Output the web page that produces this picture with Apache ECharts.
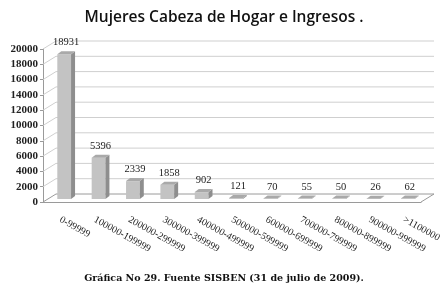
<!DOCTYPE html>
<html>
<head>
<meta charset="utf-8">
<script src="https://cdn.jsdelivr.net/npm/echarts@6/dist/echarts.min.js"></script>
<style>
  html, body { margin: 0; padding: 0; background: #fff; }
  #main { width: 448px; height: 288px; }
</style>
</head>
<body>
<div id="main"></div>
<script>
var categories = ['0-99999', '100000-199999', '200000-299999', '300000-399999', '400000-499999',
  '500000-599999', '600000-699999', '700000-799999', '800000-899999', '900000-999999', '>1100000'];
var values = [18931, 5396, 2339, 1858, 902, 121, 70, 55, 50, 26, 62];
var yTicks = [0, 2000, 4000, 6000, 8000, 10000, 12000, 14000, 16000, 18000, 20000];

// 3d look: back wall offset and bar depth (px)
var DX = 13, DY = -8;
var BX = 4, BY = -3, SD = 4, SDY = 3;

function renderWall(params, api) {
  var v = api.value(1);
  var p0 = api.coord([0, v]);
  var pN = api.coord([categories.length - 1, v]);
  var band = api.size([1, 0])[0];
  var left = p0[0] - band / 2, right = pN[0] + band / 2, y = p0[1];
  var kids = [{
    type: 'polyline',
    shape: { points: [[left, y], [left + DX, y + DY], [right + DX, y + DY]] },
    style: { stroke: v === 0 ? '#9a9a9a' : '#cfcfcf', lineWidth: 1, fill: null }
  }];
  if (v === 0) {
    kids.push({
      type: 'line',
      shape: { x1: right, y1: y, x2: right + DX, y2: y + DY },
      style: { stroke: '#9a9a9a', lineWidth: 1 }
    });
  }
  return { type: 'group', children: kids };
}

function renderBar(params, api) {
  var i = api.value(0), v = api.value(1);
  var c = api.coord([i, v]), b = api.coord([i, 0]);
  var w = api.size([1, 0])[0] * 0.4;
  var x0 = c[0] - w / 2 + BX, x1 = x0 + w;
  var yt = c[1] + BY, yb = b[1] + BY;
  return {
    type: 'group',
    children: [
      { type: 'rect', shape: { x: x0, y: yt, width: w, height: yb - yt }, style: { fill: '#c3c3c3' } },
      { type: 'polygon', shape: { points: [[x1, yt], [x1 + SD, yt - SDY], [x1 + SD, yb - SDY], [x1, yb]] }, style: { fill: '#8e8e8e' } },
      { type: 'polygon', shape: { points: [[x0, yt], [x0 + SD, yt - SDY], [x1 + SD, yt - SDY], [x1, yt]] }, style: { fill: '#a9a9a9' } },
      { type: 'text', style: { text: String(v), x: (x0 + x1) / 2 + 2, y: yt - SDY - 3,
          align: 'center', verticalAlign: 'bottom', font: '10.5px "Liberation Serif"', fill: '#222' } }
    ]
  };
}

var chart = echarts.init(document.getElementById('main'));
chart.setOption({
  animation: false,
  title: [{
    text: 'Mujeres Cabeza de Hogar e Ingresos .',
    left: 'center',
    top: 5,
    textStyle: { fontFamily: 'Open Sans', fontWeight: 600, fontSize: 15.5, color: '#111' }
  }, {
    text: 'Gráfica No 29. Fuente SISBEN (31 de julio de 2009).',
    left: 'center',
    top: 269,
    textStyle: { fontFamily: 'DejaVu Serif', fontWeight: 'bold', fontSize: 9.5, color: '#111' }
  }],
  grid: { left: 43, right: 27, top: 49, bottom: 86 },
  xAxis: {
    type: 'category',
    data: categories,
    axisLine: { lineStyle: { color: '#9a9a9a' } },
    axisTick: { show: false },
    axisLabel: { interval: 0, rotate: -29, margin: 17, fontFamily: 'Liberation Serif', fontSize: 10, color: '#222' }
  },
  yAxis: {
    type: 'value',
    min: 0,
    max: 20000,
    interval: 2000,
    splitLine: { show: false },
    axisLine: { show: true, lineStyle: { color: '#9a9a9a' } },
    axisTick: { show: true, length: 3, lineStyle: { color: '#9a9a9a' } },
    axisLabel: { margin: 5, fontFamily: 'Liberation Serif', fontWeight: 'bold', fontSize: 11, color: '#222',
      formatter: function (v) { return String(v); } }
  },
  series: [{
    type: 'custom',
    renderItem: renderWall,
    data: yTicks.map(function (v) { return [0, v]; }),
    z: 1,
    silent: true
  }, {
    type: 'custom',
    renderItem: renderBar,
    data: values.map(function (v, i) { return [i, v]; }),
    z: 2
  }]
});
</script>
</body>
</html>
